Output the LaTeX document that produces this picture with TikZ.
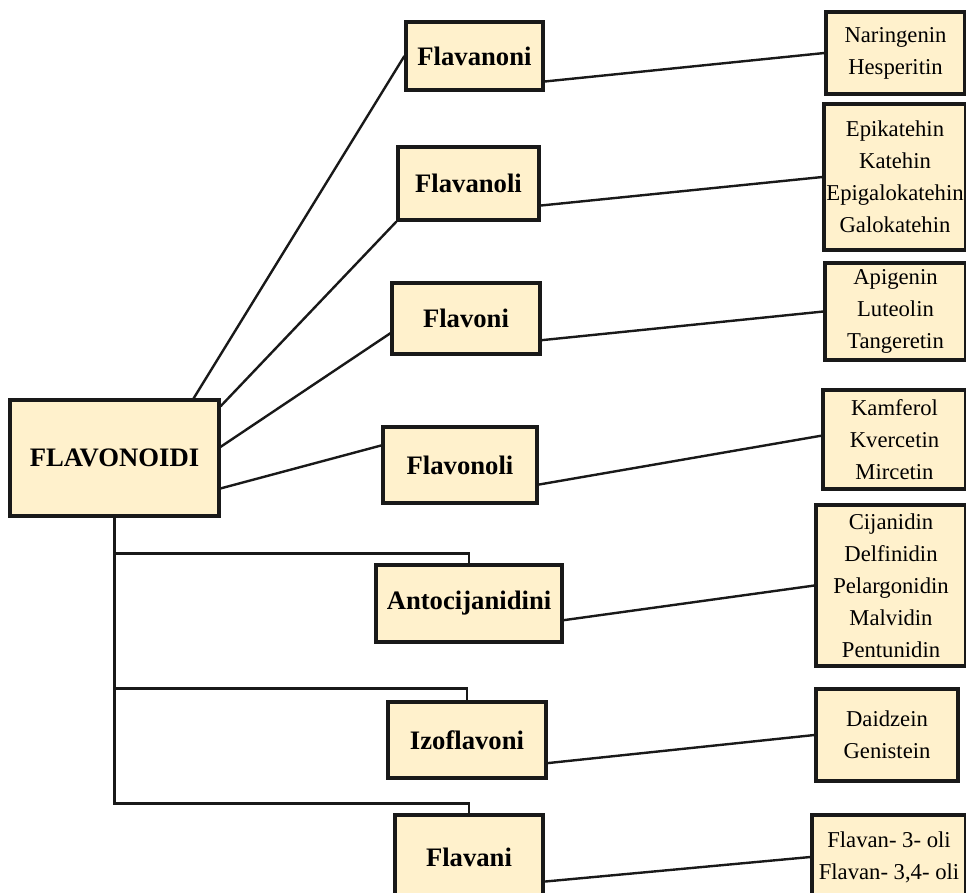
\documentclass[tikz,border=0pt]{standalone}
\usepackage{fontspec}
\setmainfont{Liberation Serif}
\usepackage{tikz}
\definecolor{boxfill}{RGB}{255,241,204}

\begin{document}
\begin{tikzpicture}[x=0.75pt,y=-0.75pt,line width=1.8pt,draw=black!90]
    \tikzstyle{box}=[draw,fill=boxfill,line width=2.4pt,inner sep=1pt,align=center]
    \tikzstyle{root node}=[box,font=\fontsize{20}{24}\selectfont\bfseries]
    \tikzstyle{class node}=[box,font=\fontsize{20}{24}\selectfont\bfseries]
    \tikzstyle{item node}=[box,font=\fontsize{17}{24}\selectfont]

    \useasboundingbox (0,0) rectangle (966,892);

    % Draw the root node
    \node[root node,minimum width=209*0.75pt,minimum height=116*0.75pt] (root) at (114.5,458) {FLAVONOIDI};

    % Draw the class nodes
    \foreach \name/\x/\y/\w/\h/\txt in {
        1/474.5/56/137/68/Flavanoni,
        2/468.5/183.5/141/73/Flavanoli,
        3/466/318.5/148/71/Flavoni,
        4/460/465/154/76/Flavonoli,
        5/469/603.5/186/77/Antocijanidini,
        6/467/740/158/76/Izoflavoni,
        7/469/857/148/84/Flavani}
        \node[class node,minimum width=\w*0.75pt,minimum height=\h*0.75pt] (C-\name) at (\x,\y) {\txt};

    % Draw the compound nodes
    \foreach \name/\x/\y/\w/\h/\txt in {
        1/895.5/53/139/82/{Naringenin\\Hesperitin},
        2/895/177/142/146/{Epikatehin\\Katehin\\Epigalokatehin\\Galokatehin},
        3/895.5/311.5/141/97/{Apigenin\\Luteolin\\Tangeretin},
        4/894.5/439.5/143/99/{Kamferol\\Kvercetin\\Mircetin},
        5/891/585.5/150/161/{Cijanidin\\Delfinidin\\Pelargonidin\\Malvidin\\Pentunidin},
        6/887/735/142/92/{Daidzein\\Genistein},
        7/889/857/154/84/{Flavan- 3- oli\\Flavan- 3,4- oli}}
        \node[item node,minimum width=\w*0.75pt,minimum height=\h*0.75pt] (I-\name) at (\x,\y) {\txt};

    % Connect the root with the first four classes
    \foreach \name/\a/\b in {1/37.5/180, 2/26/south west, 3/6.6/191.1, 4/-16.5/166.8}
        \draw (root.\a) -- (C-\name.\b);

    % Connect the root with the last three classes
    \foreach \name/\s in {5/7.5pt, 6/9pt, 7/7.5pt}
        \draw (root.south) |- ([yshift=\s]C-\name.north) -- (C-\name.north);

    % Connect every class with its compounds
    \foreach \name/\a/\b in {1/-20.8/180, 2/-17.7/180, 3/-16.2/180, 4/-14.6/177,
                             5/-10.1/180, 6/-16.2/180, 7/-18.7/180}
        \draw (C-\name.\a) -- (I-\name.\b);
\end{tikzpicture}
\end{document}
